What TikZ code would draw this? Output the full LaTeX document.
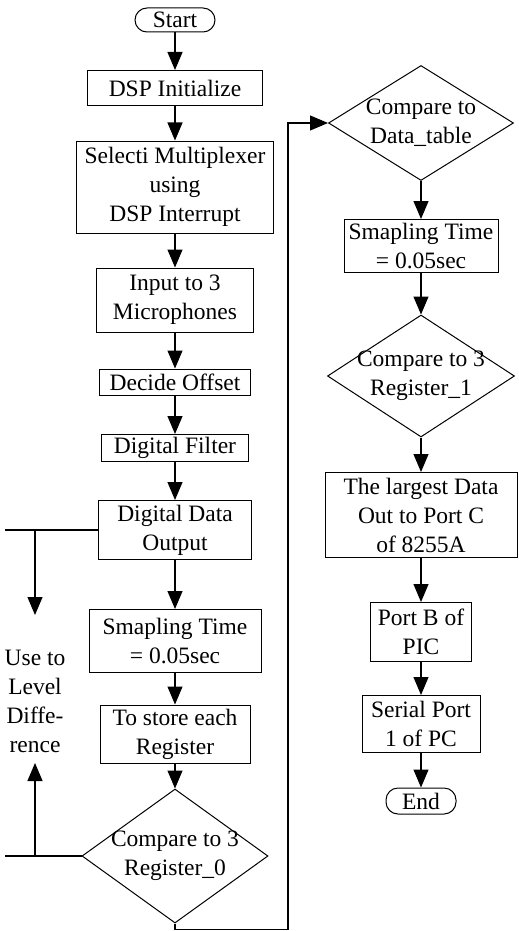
\documentclass[tikz,border=0pt]{standalone}
\usepackage{fontspec}
\setmainfont{Liberation Serif}
\usepackage{tikz}
\usetikzlibrary{arrows.meta,shapes.geometric}

\tikzset{
  proc/.style={draw, line width=1pt, inner sep=0pt, align=center},
  term/.style={draw, line width=1pt, inner sep=0pt, rounded corners=12pt},
  decision/.style={draw, diamond, line width=1pt, inner sep=0pt},
  flow/.style={line width=1.1pt}
}

\begin{document}
\begin{tikzpicture}[x=1pt,y=-1pt,>={Triangle[length=18pt,width=15pt]},
  font=\fontsize{23.5}{29}\selectfont]
\useasboundingbox (0,0) rectangle (519,931);
%%%LEFT COLUMN
\node[term, minimum width=80, minimum height=24] (start) at (175,20) {Start};
\node[proc, minimum width=175, minimum height=35] (init) at (175,88) {DSP Initialize};
\node[proc, minimum width=197, minimum height=92] (mux) at (175,187) {Selecti Multiplexer\\using\\DSP Interrupt};
\node[proc, minimum width=157, minimum height=64] (mic) at (175,300) {Input to 3\\Microphones};
\node[proc, minimum width=151, minimum height=26] (offset) at (175,382) {Decide Offset};
\node[proc, minimum width=147, minimum height=27] (filter) at (175,448) {Digital Filter};
\node[proc, minimum width=153, minimum height=59] (dout) at (175,530) {Digital Data\\Output};
\node[proc, minimum width=172, minimum height=63] (timea) at (175,641) {Smapling Time\\= 0.05sec};
\node[proc, minimum width=150, minimum height=58] (store) at (175,734) {To store each\\Register};
\node[decision, minimum width=186, minimum height=134,
  label={[align=center]center:Compare to 3\\Register\_0}] (cmpa) at (175,856) {};
%%%SIDE BRANCH
\node[align=center] (level) at (35,701) {Use to\\Level\\Diffe-\\rence};
\coordinate (ba) at (5,530);
\coordinate (bb) at (35,530);
\coordinate (bc) at (35,615);
\coordinate (bd) at (5,856);
\coordinate (be) at (35,856);
\coordinate (bf) at (35,763);
%%%RIGHT COLUMN
\node[decision, minimum width=185, minimum height=115,
  label={[align=center]center:Compare to\\Data\_table}] (cmpt) at (421,123) {};
\node[proc, minimum width=154, minimum height=53] (timeb) at (421,246) {Smapling Time\\= 0.05sec};
\node[decision, minimum width=187, minimum height=122,
  label={[align=center]center:Compare to 3\\Register\_1}] (cmpb) at (421,376) {};
\node[proc, minimum width=192, minimum height=85] (large) at (421,515) {The largest Data\\Out to Port C\\of 8255A};
\node[proc, minimum width=101, minimum height=59] (portb) at (421,632) {Port B of\\PIC};
\node[proc, minimum width=118, minimum height=57] (serial) at (421,724) {Serial Port\\1 of PC};
\node[term, minimum width=70, minimum height=26] (stop) at (421,801) {End};
%%%LOOP
\coordinate (la) at (175,929.5);
\coordinate (lb) at (288,929.5);
\coordinate (lc) at (288,123);
%%%ARROWS
\draw[->, flow] (start) -- (init);
\draw[->, flow] (init) -- (mux);
\draw[->, flow] (mux) -- (mic);
\draw[->, flow] (mic) -- (offset);
\draw[->, flow] (offset) -- (filter);
\draw[->, flow] (filter) -- (dout);
\draw[->, flow] (dout) -- (timea);
\draw[->, flow] (timea) -- (store);
\draw[->, flow] (store) -- (cmpa);
\draw[flow] (dout.west) -- (ba);
\draw[->, flow] (bb) -- (bc);
\draw[flow] (cmpa.west) -- (bd);
\draw[->, flow] (be) -- (bf);
\draw[->, flow] (cmpa.south) -- (la) -- (lb) -- (lc) -- (cmpt.west);
\draw[->, flow] (cmpt) -- (timeb);
\draw[->, flow] (timeb) -- (cmpb);
\draw[->, flow] (cmpb) -- (large);
\draw[->, flow] (large) -- (portb);
\draw[->, flow] (portb) -- (serial);
\draw[->, flow] (serial) -- (stop);
\end{tikzpicture}
\end{document}
